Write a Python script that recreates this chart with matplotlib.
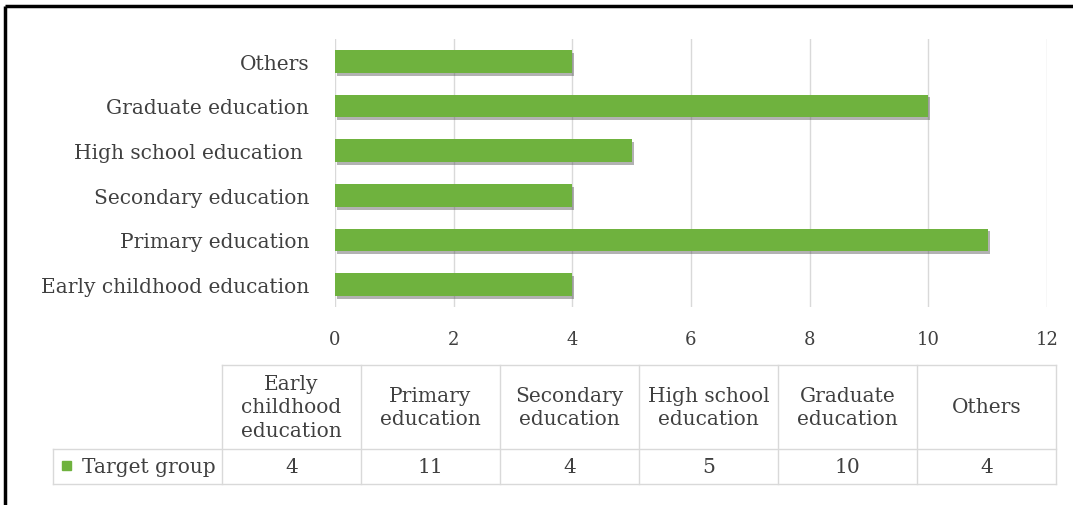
import matplotlib
matplotlib.use("Agg")
import matplotlib.pyplot as plt
import matplotlib.patheffects as pe

categories = ["Early childhood education", "Primary education", "Secondary education",
              "High school education", "Graduate education", "Others"]
ylabels = ["Early childhood education", "Primary education", "Secondary education",
           "High school education ", "Graduate education", "Others"]
table_headers = ["Early\nchildhood\neducation", "Primary\neducation", "Secondary\neducation",
                 "High school\neducation", "Graduate\neducation", "Others"]
values = [4, 11, 4, 5, 10, 4]
series_name = "Target group"
xticks = [0, 2, 4, 6, 8, 10, 12]

W, H = 1073, 506
FONT = "DejaVu Serif"
GREEN = "#6fb23e"
TXT = "#404040"
FS = 14.5

fig = plt.figure(figsize=(W / 100, H / 100), dpi=100)
fig.patch.set_facecolor("white")

ax = fig.add_axes([335 / W, 1 - 308 / H, (1047 - 335) / W, (308 - 40) / H])
ypos = list(range(len(categories)))
bars = ax.barh(ypos, values, height=0.51, color=GREEN, zorder=3)
for b in bars:
    b.set_path_effects([pe.SimplePatchShadow(offset=(1.5, -2), shadow_rgbFace="#555555", alpha=0.45), pe.Normal()])
ax.set_xlim(0, 12)
ax.set_ylim(-0.5, len(categories) - 0.5)
ax.set_xticks(xticks)
ax.set_xticklabels([str(t) for t in xticks], fontfamily=FONT, fontsize=13, color=TXT)
ax.set_yticks(ypos)
ax.set_yticklabels(ylabels, fontfamily=FONT, fontsize=FS, color=TXT)
ax.tick_params(axis="both", length=0)
ax.tick_params(axis="x", pad=16.5)
ax.tick_params(axis="y", pad=18.5)
ax.grid(axis="x", color="#d9d9d9", linewidth=1, zorder=0)
for s in ax.spines.values():
    s.set_visible(False)

# overlay in pixel coordinates for the data table and border
ov = fig.add_axes([0, 0, 1, 1], zorder=-1)
ov.set_xlim(0, W)
ov.set_ylim(H, 0)
ov.axis("off")

col_left = 222
col_right = 1056
ncol = len(categories)
cw = (col_right - col_left) / ncol
top, mid, bot = 366, 450, 485
lc = "#d9d9d9"
ov.plot([col_left, col_right], [top, top], color=lc, lw=1)
ov.plot([53, col_right], [mid, mid], color=lc, lw=1)
ov.plot([53, col_right], [bot, bot], color=lc, lw=1)
ov.plot([53, 53], [mid, bot], color=lc, lw=1)
for i in range(ncol + 1):
    x = col_left + i * cw
    ov.plot([x, x], [top, bot], color=lc, lw=1)
for i, (h, v) in enumerate(zip(table_headers, values)):
    cx = col_left + (i + 0.5) * cw
    ov.text(cx, (top + mid) / 2, h, ha="center", va="center", fontfamily=FONT,
            fontsize=FS, color=TXT, linespacing=1.3)
    ov.text(cx, (mid + bot) / 2, str(v), ha="center", va="center", fontfamily=FONT,
            fontsize=FS, color=TXT)
ov.add_patch(plt.Rectangle((62, 462), 9, 9, color=GREEN))
ov.text(82, (mid + bot) / 2, series_name, ha="left", va="center", fontfamily=FONT,
        fontsize=FS, color=TXT)

# black border top and left
ov.plot([5, 5], [7, H], color="black", lw=2.5, solid_capstyle="butt")
ov.plot([5, W], [7, 7], color="black", lw=2.5, solid_capstyle="butt")

fig.savefig("out.png", dpi=100)
